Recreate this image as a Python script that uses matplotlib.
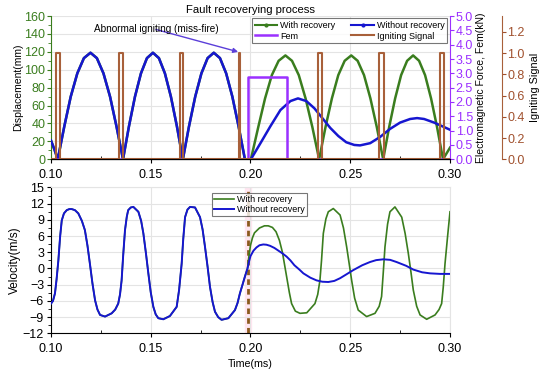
import matplotlib.pyplot as plt
from matplotlib.lines import Line2D
from matplotlib.ticker import MultipleLocator

plt.rcParams['font.family'] = ['Liberation Sans', 'DejaVu Sans']

GREEN = '#3a7d1e'
BLUE = '#1616d0'
PURPLE = '#9b30ff'
BROWN = '#a8603a'

# displacement (mm), shared part before 0.20 ms
disp_t_common = [0.1000, 0.1017, 0.1034,
                 0.1067, 0.1099, 0.1132, 0.1165, 0.1198, 0.1230, 0.1263, 0.1296, 0.1328, 0.1361,
                 0.1391, 0.1421, 0.1451, 0.1481, 0.1511, 0.1541, 0.1571, 0.1601, 0.1631, 0.1661,
                 0.1692, 0.1723, 0.1754, 0.1785, 0.1816, 0.1847, 0.1878, 0.1909, 0.1940, 0.1972,
                 0.2002]
disp_common = [21, 11, 0,
               37, 70, 96, 113, 119, 113, 96, 70, 37, 0,
               37, 70, 96, 113, 119, 113, 96, 70, 37, 0,
               37, 70, 96, 113, 119, 113, 96, 70, 37, 0,
               0]

# with recovery, after 0.20 ms
disp_t_rec = [0.2039, 0.2073, 0.2107, 0.2141, 0.2175, 0.2208, 0.2242, 0.2276, 0.2310, 0.2344,
              0.2376, 0.2408, 0.2440, 0.2472, 0.2505, 0.2537, 0.2569, 0.2601, 0.2633, 0.2665,
              0.2695, 0.2725, 0.2755, 0.2785, 0.2815, 0.2845, 0.2875, 0.2905, 0.2935, 0.2965,
              0.3000]
disp_rec = [36, 68, 94, 110, 116, 110, 94, 68, 36, 0,
            36, 68, 94, 110, 116, 110, 94, 68, 36, 0,
            36, 68, 94, 110, 116, 110, 94, 68, 36, 0,
            13]

# without recovery, after 0.20 ms
disp_t_norec = [0.2050, 0.2100, 0.2150, 0.2200, 0.2238, 0.2280, 0.2320, 0.2360, 0.2400, 0.2440,
                0.2480, 0.2520, 0.2549, 0.2600, 0.2650, 0.2700, 0.2750, 0.2800, 0.2835, 0.2870,
                0.2920, 0.2960, 0.3000]
disp_norec = [18, 37, 55, 65, 68, 65, 57, 46, 35, 26,
              19, 16, 15.5, 18, 25, 34, 41, 45, 46, 45,
              41, 37, 33]

# electromagnetic force (kN)
fem_t = [0.1000, 0.1986, 0.1986, 0.2183, 0.2183, 0.3000]
fem_kn = [0, 0, 2.88, 2.88, 0, 0]

# igniting pulses (start, end), height 1
ign_on = [0.1025, 0.1340, 0.1647, 0.1944, 0.2337, 0.2646, 0.2950]
ign_off = [0.1045, 0.1362, 0.1663, 0.1946, 0.2360, 0.2669, 0.2972]

# velocity (m/s), shared part
vel_t_common = [0.1000, 0.1010, 0.1020, 0.1028, 0.1037, 0.1046, 0.1054, 0.1065, 0.1079, 0.1092,
                0.1104, 0.1120, 0.1137, 0.1155, 0.1170, 0.1183, 0.1195, 0.1208, 0.1221, 0.1233,
                0.1246, 0.1271, 0.1304, 0.1322, 0.1337, 0.1346, 0.1354, 0.1362, 0.1371, 0.1380,
                0.1387, 0.1400, 0.1413, 0.1438, 0.1452, 0.1463, 0.1476, 0.1488, 0.1500, 0.1513,
                0.1525, 0.1538, 0.1563, 0.1596, 0.1630, 0.1642, 0.1655, 0.1663, 0.1672, 0.1684,
                0.1697, 0.1722, 0.1747, 0.1760, 0.1772, 0.1785, 0.1797, 0.1810, 0.1822, 0.1838,
                0.1855, 0.1889, 0.1922, 0.1935, 0.1947, 0.1960, 0.1972, 0.1985]
vel_common = [-6.5, -6.0, -4.6, -2.0, 1.5, 6.0, 8.9, 10.2, 10.8, 11.0,
              11.0, 10.8, 10.2, 8.8, 7.1, 4.2, 0.9, -2.8, -5.9, -7.6,
              -8.6, -8.9, -8.3, -7.6, -6.5, -4.8, -2.2, 2.5, 7.1, 9.6,
              10.8, 11.3, 11.4, 10.5, 8.8, 6.5, 2.8, -0.9, -4.4, -7.1,
              -8.5, -9.2, -9.4, -8.8, -7.1, -4.0, 0.9, 5.5, 9.5, 10.9,
              11.4, 11.3, 9.5, 7.2, 4.0, 0.3, -3.4, -6.2, -8.0, -9.0,
              -9.5, -9.2, -7.7, -6.4, -4.6, -3.0, -1.5, 0.0]

vel_t_rec = [0.1992, 0.2000, 0.2010, 0.2020, 0.2045, 0.2070, 0.2089, 0.2110, 0.2128, 0.2145,
             0.2160, 0.2181, 0.2195, 0.2206, 0.2225, 0.2248, 0.2282, 0.2323, 0.2337, 0.2348,
             0.2356, 0.2365, 0.2378, 0.2390, 0.2415, 0.2449, 0.2466, 0.2482, 0.2495, 0.2507,
             0.2522, 0.2540, 0.2582, 0.2624, 0.2645, 0.2657, 0.2665, 0.2674, 0.2687, 0.2699,
             0.2724, 0.2758, 0.2775, 0.2791, 0.2804, 0.2816, 0.2833, 0.2850, 0.2883, 0.2925,
             0.2945, 0.2958, 0.2966, 0.2975, 0.2988, 0.3000]
vel_rec = [2.2, 4.3, 5.7, 6.6, 7.5, 7.9, 7.9, 7.6, 6.8, 5.2,
           3.0, -1.5, -4.5, -6.5, -7.9, -8.3, -8.2, -6.5, -4.8, -2.2,
           1.5, 6.5, 9.2, 10.5, 11.1, 9.9, 7.5, 4.0, 0.8, -2.2,
           -5.5, -7.7, -8.9, -8.3, -7.0, -5.2, -1.0, 4.0, 8.2, 10.5,
           11.4, 9.5, 6.5, 2.8, -0.6, -4.0, -7.0, -8.6, -9.4, -8.6,
           -7.6, -6.5, -3.5, 0.9, 6.0, 10.5]

vel_t_norec = [0.1992, 0.2000, 0.2015, 0.2030, 0.2045, 0.2064, 0.2080, 0.2098, 0.2120, 0.2140,
               0.2160, 0.2181, 0.2200, 0.2220, 0.2245, 0.2265, 0.2300, 0.2331, 0.2360, 0.2390,
               0.2420, 0.2449, 0.2480, 0.2515, 0.2560, 0.2599, 0.2630, 0.2666, 0.2700, 0.2732,
               0.2780, 0.2816, 0.2860, 0.2900, 0.2950, 0.3000]
vel_norec = [1.2, 2.3, 3.3, 3.9, 4.3, 4.45, 4.4, 4.2, 3.8, 3.3,
             2.8, 2.2, 1.5, 0.6, -0.2, -0.9, -1.7, -2.2, -2.45, -2.5,
             -2.3, -1.8, -1.1, -0.3, 0.6, 1.2, 1.55, 1.7, 1.6, 1.2,
             0.5, -0.2, -0.7, -0.9, -1.0, -1.0]

fig = plt.figure(figsize=(5.5, 3.73), dpi=100)
ax1 = fig.add_axes([0.0927, 0.573, 0.7255, 0.384])
ax2 = fig.add_axes([0.0927, 0.1064, 0.7255, 0.391])

# ---- top: displacement, Fem, igniting signal
ax1.plot(disp_t_common + disp_t_rec, disp_common + disp_rec, color=GREEN, lw=1.8, zorder=3)
ax1.plot(disp_t_common + disp_t_norec, disp_common + disp_norec, color=BLUE, lw=1.8, zorder=4)
ax1.set_xlim(0.10, 0.30)
ax1.set_ylim(0, 160)
ax1.yaxis.set_major_locator(MultipleLocator(20))
ax1.yaxis.set_minor_locator(MultipleLocator(10))
ax1.xaxis.set_major_locator(MultipleLocator(0.05))
ax1.xaxis.set_minor_locator(MultipleLocator(0.025))
ax1.xaxis.set_major_formatter(plt.FormatStrFormatter('%.2f'))
ax1.grid(True, which='major', color='#e4e4e4', lw=0.8)
ax1.set_axisbelow(True)
ax1.set_ylabel('Displacement(mm)', fontsize=7.5, labelpad=1)
ax1.tick_params(axis='y', colors=GREEN, labelsize=9, length=3, width=0.8, pad=1)
ax1.tick_params(axis='y', which='minor', colors=GREEN, length=2)
ax1.tick_params(axis='x', labelsize=9, length=3, pad=4)
ax1.tick_params(axis='x', which='minor', length=2, direction='in')
ax1.spines['left'].set_color(GREEN)
ax1.spines['top'].set_visible(False)
ax1.spines['right'].set_visible(False)
ax1.annotate('Abnormal igniting (miss-fire)', xy=(0.1938, 120), xytext=(0.1526, 145),
             ha='center', va='center', fontsize=7.2,
             arrowprops=dict(arrowstyle='-|>', color='#5b3fd9', lw=1, mutation_scale=7,
                             shrinkA=0, shrinkB=0, patchA=None,
                             connectionstyle='arc3'),
             zorder=6)
ax1.text(0.5, 1.045, 'Fault recoverying process', transform=ax1.transAxes,
         ha='center', va='center', fontsize=8.1)

axf = ax1.twinx()
axf.plot(fem_t, fem_kn, color=PURPLE, lw=1.8)
axf.set_ylim(0, 5)
axf.yaxis.set_major_locator(MultipleLocator(0.5))
axf.yaxis.set_major_formatter(plt.FormatStrFormatter('%.1f'))
axf.tick_params(axis='y', colors=PURPLE, labelsize=9, length=3, pad=1)
axf.spines['right'].set_color(PURPLE)
axf.spines['top'].set_visible(False)
axf.spines['left'].set_visible(False)
axf.set_ylabel('Electromagnetic Force, Fem(kN)', fontsize=7.5, labelpad=2)

axi = ax1.twinx()
ign_t = [0.10]
ign_v = [0]
for a, b in zip(ign_on, ign_off):
    ign_t += [a, a, b, b]
    ign_v += [0, 1, 1, 0]
ign_t.append(0.30)
ign_v.append(0)
axi.plot(ign_t, ign_v, color=BROWN, lw=1.5)
axi.set_ylim(0, 1.35)
axi.yaxis.set_major_locator(MultipleLocator(0.2))
axi.yaxis.set_major_formatter(plt.FormatStrFormatter('%.1f'))
axi.spines['right'].set_position(('axes', 1.13))
axi.spines['right'].set_color(BROWN)
axi.spines['top'].set_visible(False)
axi.spines['left'].set_visible(False)
axi.tick_params(axis='y', colors='#a0502d', labelsize=9, length=3, pad=1)
axi.set_ylabel('Igniting Signal', fontsize=7.8, labelpad=4)
axi.set_xlim(0.10, 0.30)

handles = [Line2D([], [], color=GREEN, lw=1.5, marker='o', ms=2),
           Line2D([], [], color=PURPLE, lw=1.8),
           Line2D([], [], color=BLUE, lw=1.5, marker='o', ms=2),
           Line2D([], [], color=BROWN, lw=1.5)]
labels = ['With recovery', 'Fem', 'Without recovery', 'Igniting Signal']
leg = axi.legend(handles, labels, ncol=2, loc='upper left', bbox_to_anchor=(0.504, 0.986),
                 fontsize=6.5, frameon=True, fancybox=False, edgecolor='#555555',
                 borderpad=0.3, labelspacing=0.2, handlelength=2.5, handletextpad=0.3,
                 columnspacing=1.8, borderaxespad=0)
leg.get_frame().set_linewidth(0.8)

# ---- bottom: velocity
ax2.axvspan(0.1972, 0.2002, color='#ffe6f0', zorder=0)
ax2.axvline(0.1985, color='#8b5a1e', lw=2, ls=(0, (2, 1.5)), zorder=2)
ax2.plot(vel_t_common + vel_t_rec, vel_common + vel_rec, color=GREEN, lw=1.2, zorder=3,
         label='With recovery')
ax2.plot(vel_t_common + vel_t_norec, vel_common + vel_norec, color=BLUE, lw=1.4, zorder=4,
         label='Without recovery')
ax2.set_xlim(0.10, 0.30)
ax2.set_ylim(-12, 15)
ax2.yaxis.set_major_locator(MultipleLocator(3))
ax2.yaxis.set_minor_locator(MultipleLocator(1.5))
ax2.xaxis.set_major_locator(MultipleLocator(0.05))
ax2.xaxis.set_minor_locator(MultipleLocator(0.025))
ax2.xaxis.set_major_formatter(plt.FormatStrFormatter('%.2f'))
ax2.grid(True, which='major', color='#e4e4e4', lw=0.8)
ax2.set_axisbelow(True)
ax2.tick_params(labelsize=9, length=3, pad=2)
ax2.tick_params(which='minor', length=2)
ax2.tick_params(axis='x', which='minor', direction='in')
ax2.tick_params(axis='x', pad=4)
ax2.spines['top'].set_color('#e4e4e4')
ax2.spines['right'].set_color('#e4e4e4')
ax2.set_xlabel('Time(ms)', fontsize=7.7, labelpad=3)
ax2.set_ylabel('Velocity(m/s)', fontsize=8.5, labelpad=1)
leg2 = ax2.legend(loc='upper left', bbox_to_anchor=(0.403, 0.965), fontsize=6.5,
                  frameon=True, fancybox=False, edgecolor='#555555', borderpad=0.25,
                  labelspacing=0.15, handlelength=2.2, handletextpad=0.3, borderaxespad=0)
leg2.get_frame().set_linewidth(0.8)
leg2.set_zorder(10)

fig.savefig('out.png', dpi=100)
